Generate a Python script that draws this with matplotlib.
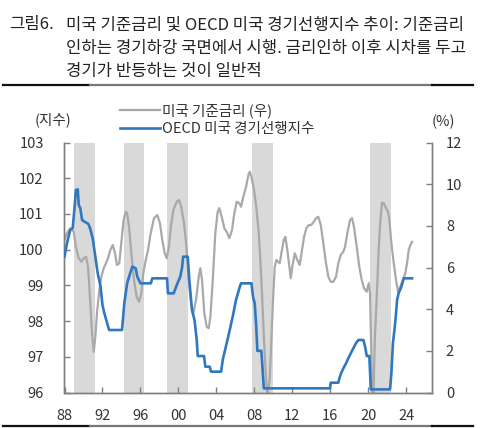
import matplotlib
matplotlib.use("Agg")
import matplotlib.pyplot as plt
from matplotlib.lines import Line2D

plt.rcParams['font.family'] = ['Noto Sans CJK KR', 'DejaVu Sans']

# ---- data ----
# gray series (left axis, index)
gray_years = [1988.0, 1988.26, 1988.6, 1988.97, 1989.2, 1989.5, 1989.77, 1990.02, 1990.27, 1990.48,
              1990.7, 1990.9, 1991.08, 1991.25, 1991.42, 1991.67, 1991.88, 1992.13, 1992.37, 1992.58,
              1992.83, 1993.08, 1993.29, 1993.53, 1993.77, 1993.98, 1994.23, 1994.45, 1994.6, 1994.8,
              1995.04, 1995.32, 1995.6, 1995.85, 1996.1, 1996.3, 1996.56, 1996.8, 1997.08, 1997.43,
              1997.78, 1998.06, 1998.3, 1998.56, 1998.77, 1999.0, 1999.2, 1999.47, 1999.82, 2000.06,
              2000.3, 2000.59, 2000.85, 2001.09, 2001.33, 2001.57, 2001.86, 2002.14, 2002.31, 2002.49,
              2002.73, 2002.98, 2003.2, 2003.37, 2003.62, 2003.89, 2004.14, 2004.31, 2004.6, 2004.84,
              2005.09, 2005.37, 2005.65, 2005.89, 2006.15, 2006.42, 2006.6, 2006.84, 2007.13, 2007.38,
              2007.52, 2007.69, 2007.97, 2008.2, 2008.47, 2008.67, 2008.84, 2009.02, 2009.2, 2009.37,
              2009.62, 2009.8, 2009.97, 2010.15, 2010.32, 2010.5, 2010.68, 2010.85, 2011.1, 2011.27,
              2011.48, 2011.73, 2011.84, 2012.0, 2012.26, 2012.53, 2012.78, 2013.03, 2013.24, 2013.48,
              2013.73, 2014.0, 2014.22, 2014.5, 2014.74, 2015.0, 2015.27, 2015.55, 2015.8, 2016.05,
              2016.33, 2016.61, 2016.85, 2017.1, 2017.38, 2017.56, 2017.8, 2018.08, 2018.3, 2018.5,
              2018.79, 2019.06, 2019.32, 2019.56, 2019.84, 2020.05, 2020.19, 2020.33, 2020.43, 2020.52,
              2020.69, 2020.93, 2021.1, 2021.28, 2021.46, 2021.64, 2021.88, 2022.09, 2022.23, 2022.44,
              2022.69, 2022.93, 2023.14, 2023.38, 2023.64, 2023.91, 2024.09, 2024.27, 2024.44, 2024.62]
gray_values = [100.27, 100.46, 100.6, 100.5, 100.08, 99.76, 99.66, 99.76, 99.8, 99.52,
               98.6, 97.66, 97.14, 97.56, 98.22, 98.87, 99.24, 99.48, 99.62, 99.76,
               99.99, 100.13, 99.94, 99.57, 99.62, 100.18, 100.83, 101.06, 101.02, 100.64,
               99.9, 99.15, 98.68, 98.54, 98.78, 99.34, 99.71, 99.99, 100.46, 100.88,
               100.97, 100.74, 100.27, 99.9, 99.76, 100.08, 100.64, 101.11, 101.34, 101.39,
               101.2, 100.74, 100.08, 99.15, 98.5, 98.22, 98.59, 99.24, 99.48, 99.15,
               98.22, 97.84, 97.8, 98.12, 99.15, 100.46, 101.06, 101.16, 100.88, 100.6,
               100.5, 100.32, 100.55, 101.02, 101.34, 101.3, 101.2, 101.48, 101.76, 102.1,
               102.18, 102.04, 101.67, 101.2, 100.46, 99.52, 98.59, 97.47, 96.54, 95.9,
               96.35, 97.47, 98.59, 99.52, 99.71, 99.66, 99.62, 99.9, 100.27, 100.36,
               99.99, 99.43, 99.2, 99.52, 99.9, 99.71, 99.57, 99.99, 100.36, 100.6,
               100.69, 100.69, 100.76, 100.88, 100.92, 100.69, 100.18, 99.62, 99.24, 99.1,
               99.1, 99.24, 99.62, 99.85, 99.94, 100.08, 100.46, 100.83, 100.88, 100.64,
               100.08, 99.52, 99.15, 98.92, 98.82, 99.06, 98.78, 97.0, 95.8, 95.5,
               97.47, 98.87, 99.99, 100.83, 101.32, 101.3, 101.16, 101.06, 100.83, 100.18,
               99.62, 99.15, 98.82, 98.96, 99.15, 99.34, 99.62, 99.99, 100.13, 100.22]

# blue series (right axis, %)
blue_years = [1988.0, 1988.26, 1988.6, 1988.86, 1989.07, 1989.2, 1989.4, 1989.5, 1989.67, 1989.85,
              1990.1, 1990.5, 1990.7, 1990.97, 1991.25, 1991.5, 1991.8, 1992.0, 1992.2, 1992.5,
              1992.7, 1994.06, 1994.3, 1994.6, 1994.97, 1995.15, 1995.5, 1995.67, 1996.0, 1997.1,
              1997.25, 1998.8, 1998.9, 1999.5, 1999.9, 2000.2, 2000.4, 2000.5, 2000.98, 2001.15,
              2001.43, 2001.7, 2001.93, 2002.04, 2002.7, 2002.84, 2003.3, 2003.44, 2004.5, 2004.67,
              2005.0, 2005.37, 2005.72, 2006.07, 2006.42, 2006.6, 2007.7, 2007.86, 2008.04, 2008.2,
              2008.32, 2008.74, 2008.85, 2009.0, 2015.97, 2016.05, 2016.85, 2016.96, 2017.14, 2017.38,
              2017.66, 2017.9, 2018.16, 2018.43, 2018.7, 2018.96, 2019.5, 2019.67, 2019.85, 2020.12,
              2020.27, 2022.3, 2022.44, 2022.6, 2022.8, 2022.93, 2023.04, 2023.2, 2023.5, 2023.74,
              2024.62]
blue_values = [6.52, 7.16, 7.8, 7.88, 8.92, 9.72, 9.75, 9.0, 8.84, 8.28,
               8.2, 8.1, 7.88, 7.4, 6.52, 5.72, 5.08, 4.2, 3.8, 3.32,
               3.0, 3.0, 4.28, 5.24, 5.8, 6.04, 5.96, 5.56, 5.24, 5.24,
               5.48, 5.48, 4.76, 4.76, 5.24, 5.56, 6.04, 6.52, 6.52, 5.4,
               3.96, 3.48, 2.52, 1.75, 1.75, 1.24, 1.24, 1.0, 1.0, 1.56,
               2.2, 2.92, 3.64, 4.44, 5.0, 5.24, 5.24, 4.6, 4.28, 3.16,
               2.0, 2.0, 1.24, 0.2, 0.2, 0.47, 0.47, 0.68, 0.92, 1.16,
               1.4, 1.64, 1.88, 2.12, 2.36, 2.52, 2.52, 2.2, 1.75, 1.75,
               0.15, 0.15, 0.92, 2.36, 3.16, 3.8, 4.44, 4.76, 5.08, 5.48,
               5.48]

# shaded periods
shade_start = [1989.03, 1994.24, 1998.83, 2007.76, 2020.22]
shade_end = [1991.25, 1996.38, 2000.98, 2009.97, 2022.44]

left_ticks = [96, 97, 98, 99, 100, 101, 102, 103]
right_ticks = [0, 2, 4, 6, 8, 10, 12]
x_ticks = [1988, 1992, 1996, 2000, 2004, 2008, 2012, 2016, 2020, 2024]
x_labels = ['88', '92', '96', '00', '04', '08', '12', '16', '20', '24']

title_lines = ['미국 기준금리 및 OECD 미국 경기선행지수 추이: 기준금리',
               '인하는 경기하강 국면에서 시행. 금리인하 이후 시차를 두고',
               '경기가 반등하는 것이 일반적']
legend_labels = ['미국 기준금리 (우)', 'OECD 미국 경기선행지수']

# ---- figure ----
W, H = 485, 428
fig = plt.figure(figsize=(W / 100, H / 100), dpi=100)
fig.patch.set_facecolor('white')

def fx(px):
    return px / W

def fy(py):
    return 1 - py / H

ax = fig.add_axes([fx(64.5), fy(392.5), fx(432) - fx(64.5), fy(142.5) - fy(392.5)])
ax2 = ax.twinx()

gray_c = '#a9a9a9'
blue_c = '#2f78c0'
spine_c = '#7f7f7f'
text_c = '#333333'

for s, e in zip(shade_start, shade_end):
    ax.axvspan(s, e, color='#d9d9d9', lw=0, zorder=0)

ax.plot(gray_years, gray_values, color=gray_c, lw=1.6, zorder=2)
ax2.plot(blue_years, blue_values, color=blue_c, lw=1.9, zorder=3)

ax.set_xlim(1988, 2026.72)
ax.set_ylim(96, 103)
ax2.set_ylim(0, 12)

ax.set_yticks(left_ticks)
ax.set_yticklabels([str(v) for v in left_ticks])
ax2.set_yticks(right_ticks)
ax2.set_yticklabels([str(v) for v in right_ticks])
ax.set_xticks(x_ticks)
ax.set_xticklabels(x_labels)

for a in (ax, ax2):
    a.spines['top'].set_visible(False)
    for sp in ('left', 'right', 'bottom'):
        a.spines[sp].set_color(spine_c)
        a.spines[sp].set_linewidth(1.0)
    a.tick_params(direction='in', length=4, width=1.0, color=spine_c,
                  labelsize=10.5, labelcolor=text_c)
    a.patch.set_visible(False)
ax.tick_params(axis='y', pad=15)
ax.tick_params(axis='x', pad=12)
ax2.tick_params(axis='y', pad=10)

# axis unit labels
fig.text(fx(35), fy(120), '(지수)', fontsize=10.5, color=text_c, va='center', ha='left')
fig.text(fx(432), fy(122), '(%)', fontsize=10.5, color=text_c, va='center', ha='left')

# legend
handles = [Line2D([], [], color=gray_c, lw=1.6), Line2D([], [], color=blue_c, lw=1.9)]
fig.legend(handles, legend_labels, loc='upper left', bbox_to_anchor=(fx(120), fy(103)),
           frameon=False, fontsize=10.5, handlelength=2.75, handletextpad=0.15,
           labelspacing=0.3, borderpad=0, borderaxespad=0, labelcolor=text_c)

# title
fig.text(fx(9), fy(25), '그림6.', fontsize=12, color='#222222', va='center', ha='left')
for i, line in enumerate(title_lines):
    fig.text(fx(66), fy(25 + 23 * i), line, fontsize=12, color='#222222', va='center', ha='left')

# rules
for yy in (85, 426):
    fig.add_artist(Line2D([fx(3), fx(90)], [fy(yy), fy(yy)], color='#111111', lw=1.6))
    fig.add_artist(Line2D([fx(90), fx(432)], [fy(yy), fy(yy)], color='#777777', lw=1.6))
    fig.add_artist(Line2D([fx(432), fx(473)], [fy(yy), fy(yy)], color='#111111', lw=1.6))

fig.savefig('out.png', dpi=100)
